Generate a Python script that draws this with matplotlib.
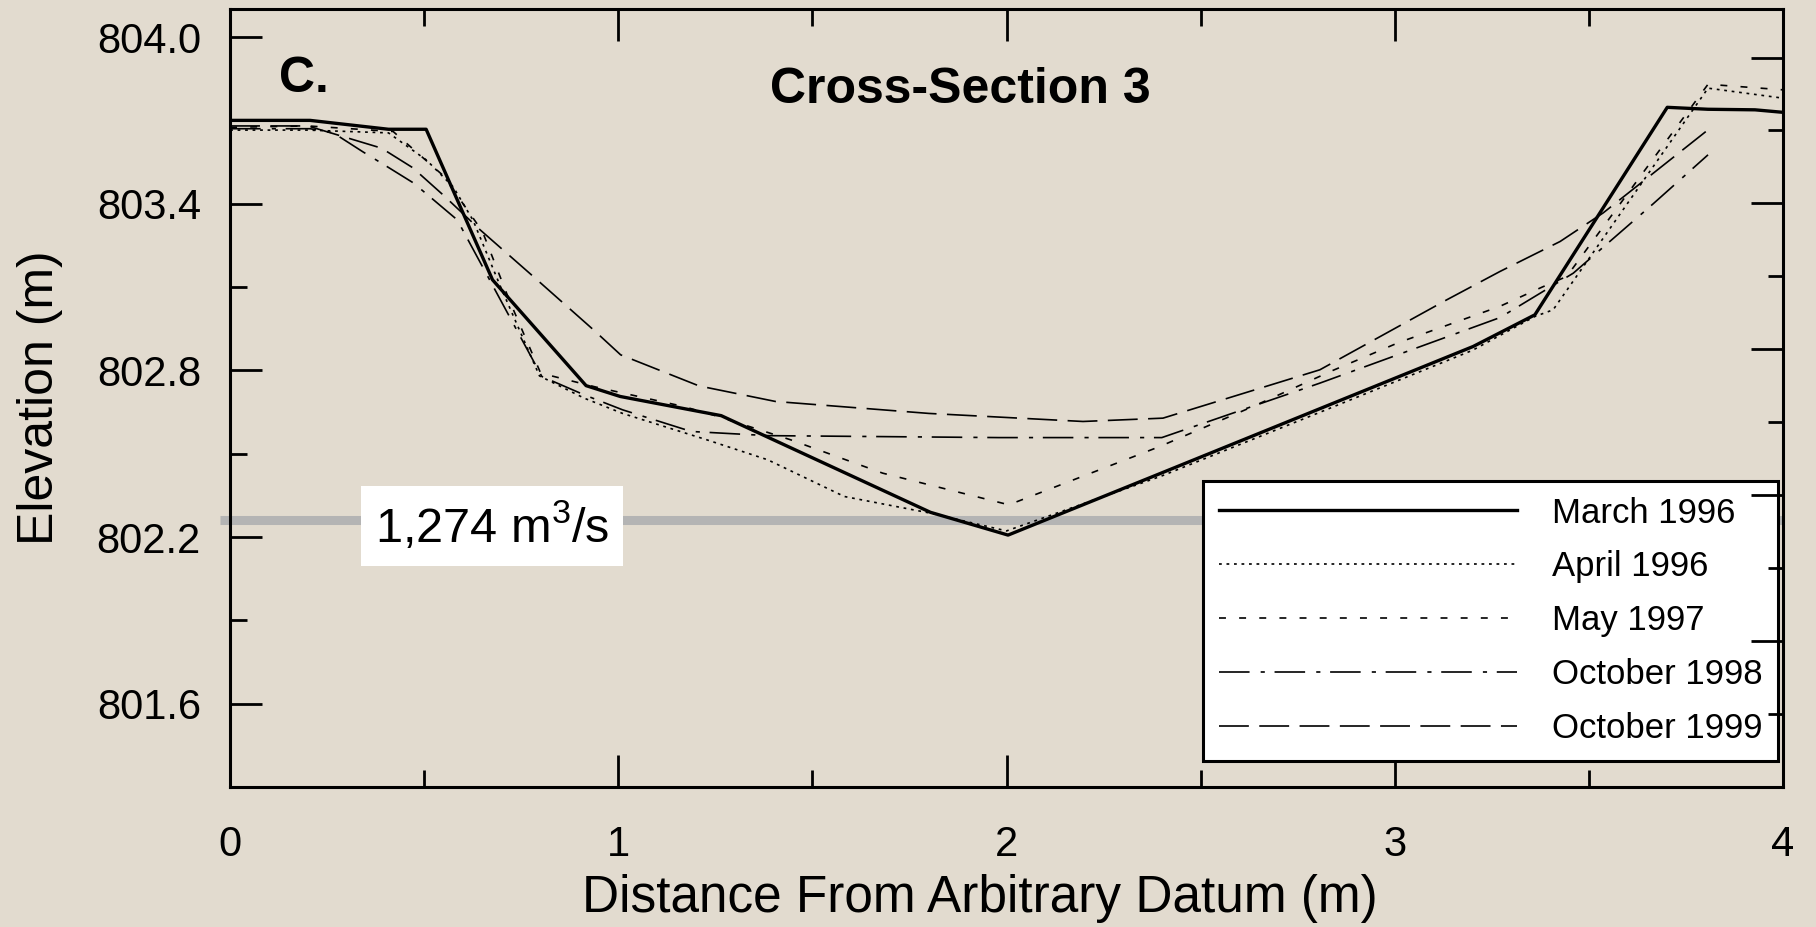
import numpy as np
import matplotlib
matplotlib.use('Agg')
import matplotlib.pyplot as plt

plt.rcParams['font.family'] = ['Liberation Sans', 'DejaVu Sans']
plt.rcParams['mathtext.fontset'] = 'custom'
plt.rcParams['mathtext.rm'] = 'Liberation Sans'
plt.rcParams['mathtext.it'] = 'Liberation Sans:italic'
plt.rcParams['lines.scale_dashes'] = False

# surveyed cross-section profiles (distance m, elevation m)
dist_mar96 = [0, 0.206, 0.408, 0.505, 0.676, 0.917, 1.005, 1.208, 1.265, 1.804, 2.004,
              2.40, 2.80, 3.202, 3.361, 3.702, 3.807, 3.928, 4.0]
elev_mar96 = [803.70, 803.70, 803.668, 803.668, 803.126, 802.745, 802.706, 802.652, 802.637,
              802.289, 802.207, 802.431, 802.658, 802.886, 803.0, 803.747, 803.74, 803.738, 803.729]

dist_apr96 = [0, 0.2, 0.408, 0.506, 0.575, 0.626, 0.697, 0.797, 0.912, 1.011, 1.228, 1.385,
              1.582, 1.804, 2.0, 2.4, 2.8, 3.2, 3.361, 3.408, 3.807, 4.0]
elev_apr96 = [803.665, 803.665, 803.655, 803.557, 803.46, 803.34, 803.10, 802.78, 802.70,
              802.645, 802.55, 802.478, 802.346, 802.286, 802.222, 802.42, 802.645, 802.872,
              802.994, 803.018, 803.816, 803.78]

dist_may97 = [0, 0.2, 0.42, 0.55, 0.65, 0.72, 0.80, 0.942, 1.168, 1.257, 1.444, 1.681, 2.006,
              2.395, 2.635, 2.841, 3.01, 3.27, 3.38, 3.443, 3.807, 4.0]
elev_may97 = [803.675, 803.68, 803.66, 803.50, 803.30, 803.05, 802.79, 802.74, 802.67, 802.634,
              802.55, 802.43, 802.316, 802.526, 802.67, 802.80, 802.90, 803.03, 803.10, 803.138,
              803.83, 803.81]

dist_oct98 = [0, 0.206, 0.266, 0.343, 0.404, 0.472, 0.524, 0.585, 0.803, 0.912, 1.011, 1.188,
              1.386, 1.98, 2.40, 2.807, 3.271, 3.46, 3.666, 3.807]
elev_oct98 = [803.67, 803.67, 803.655, 803.586, 803.534, 803.475, 803.414, 803.342, 802.778,
              802.712, 802.658, 802.58, 802.565, 802.558, 802.558, 802.754, 802.99, 803.15,
              803.40, 803.576]

dist_oct99 = [0, 0.2, 0.39, 0.47, 0.55, 0.644, 0.781, 0.936, 1.006, 1.208, 1.405, 1.80, 2.197,
              2.403, 2.807, 3.134, 3.271, 3.426, 3.537, 3.807]
elev_oct99 = [803.68, 803.68, 803.60, 803.53, 803.43, 803.306, 803.138, 802.946, 802.856,
              802.744, 802.688, 802.645, 802.616, 802.628, 802.802, 803.054, 803.156, 803.264,
              803.367, 803.666]

flow_stage = 802.26
flow_label = r'1,274 m$^{3}$/s'

bg = '#e2dbcf'
fig = plt.figure(figsize=(18.16, 9.27), dpi=100, facecolor=bg)
ax = fig.add_axes([0.1267, 0.151, 0.8551, 0.839])
ax.set_facecolor(bg)

# discharge stage line
ax.plot([-0.025, 4.0], [flow_stage, flow_stage], color='#b4b4b4', lw=6.5,
        solid_capstyle='butt', clip_on=False, zorder=1)

thin = 1.2
ax.plot(dist_mar96, elev_mar96, color='black', lw=2.4, label='March 1996', zorder=4)
ax.plot(dist_apr96, elev_apr96, color='black', lw=thin, dashes=(2.0, 3.4),
        label='April 1996', zorder=3)
ax.plot(dist_may97, elev_may97, color='black', lw=thin, dashes=(5, 9.5),
        label='May 1997', zorder=3)
ax.plot(dist_oct98, elev_oct98, color='black', lw=thin, dashes=(22, 8, 3, 7),
        label='October 1998', zorder=3)
ax.plot(dist_oct99, elev_oct99, color='black', lw=thin, dashes=(21.5, 7.5),
        label='October 1999', zorder=3)

ax.text(0.675, 802.24, flow_label, fontsize=35, ha='center', va='center', zorder=5,
        bbox=dict(boxstyle='square,pad=0.28', facecolor='white', edgecolor='none'))

ax.text(0.125, 803.85, 'C.', fontsize=36, fontweight='bold', ha='left', va='center')
ax.text(1.88, 803.81, 'Cross-Section 3', fontsize=36, fontweight='bold',
        ha='center', va='center')

ax.set_xlim(0, 4)
ax.set_ylim(801.3, 804.1)
ax.set_xticks([0, 1, 2, 3, 4])
ax.set_xticks([0.5, 1.5, 2.5, 3.5], minor=True)
ax.set_yticks([801.6, 802.2, 802.8, 803.4, 804.0])
ax.set_yticks([801.9, 802.5, 803.1, 803.7], minor=True)
ax.set_yticklabels(['801.6', '802.2', '802.8', '803.4', '804.0'])
ax.tick_params(axis='both', which='both', direction='in', width=2, top=True, right=False)
ax.tick_params(axis='both', which='major', length=23)
ax.tick_params(axis='both', which='minor', length=12)
ax.tick_params(axis='y', which='major', labelsize=30, pad=21)
ax.tick_params(axis='x', which='major', labelsize=30, pad=27)
for s in ax.spines.values():
    s.set_linewidth(2.2)

# right-hand axis has its own tick spacing
axr = ax.twinx()
axr.set_ylim(801.3, 804.1)
axr.set_yticks([803.926, 803.401, 802.876, 802.351, 801.826])
axr.set_yticks([803.664, 803.139, 802.614, 802.089, 801.564], minor=True)
axr.tick_params(axis='y', which='both', direction='in', width=2, labelright=False)
axr.tick_params(axis='y', which='major', length=23)
axr.tick_params(axis='y', which='minor', length=11)
for s in axr.spines.values():
    s.set_visible(False)

leg = ax.legend(loc='upper right', bbox_to_anchor=(0.997, 0.3935), borderaxespad=0,
                fontsize=25, handlelength=8.6, handletextpad=1.0, borderpad=0.45,
                labelspacing=0.6, fancybox=False, framealpha=1, edgecolor='black')
leg.get_frame().set_linewidth(2.2)
leg.set_zorder(10)

fig.text(0.022, 0.571, 'Elevation (m)', rotation=90, fontsize=36, ha='center', va='center')
fig.text(0.5396, 0.031, 'Distance From Arbitrary Datum (m)', fontsize=37,
         ha='center', va='center')

fig.savefig('out.png', dpi=100, facecolor=bg)
